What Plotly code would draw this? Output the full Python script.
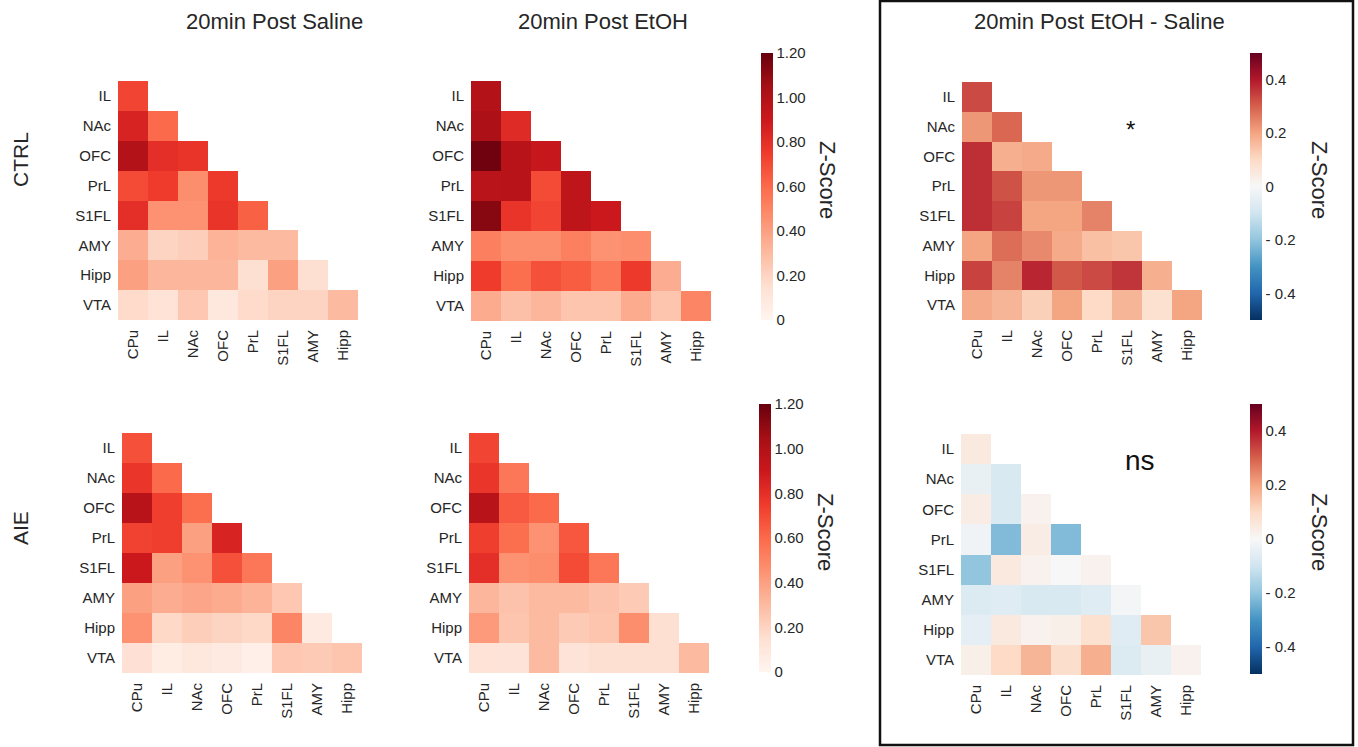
import plotly.graph_objects as go

W, H = 1358, 747

rows = ["IL", "NAc", "OFC", "PrL", "S1FL", "AMY", "Hipp", "VTA"]
cols = ["CPu", "IL", "NAc", "OFC", "PrL", "S1FL", "AMY", "Hipp"]

ctrl_saline = [
    [0.72],
    [0.85, 0.60],
    [1.00, 0.80, 0.78],
    [0.70, 0.75, 0.47, 0.76],
    [0.80, 0.45, 0.45, 0.78, 0.63],
    [0.35, 0.20, 0.22, 0.33, 0.30, 0.30],
    [0.40, 0.32, 0.32, 0.32, 0.15, 0.40, 0.15],
    [0.17, 0.13, 0.25, 0.10, 0.17, 0.20, 0.20, 0.30],
]
ctrl_etoh = [
    [1.00],
    [1.02, 0.82],
    [1.18, 0.98, 0.92],
    [0.97, 0.98, 0.70, 0.95],
    [1.12, 0.78, 0.72, 0.95, 0.90],
    [0.52, 0.47, 0.47, 0.52, 0.45, 0.47],
    [0.75, 0.58, 0.68, 0.64, 0.55, 0.76, 0.35],
    [0.36, 0.28, 0.32, 0.26, 0.26, 0.36, 0.26, 0.50],
]
ctrl_diff = [
    [0.33],
    [0.22, 0.29],
    [0.37, 0.18, 0.19],
    [0.37, 0.32, 0.22, 0.22],
    [0.37, 0.34, 0.20, 0.20, 0.25],
    [0.20, 0.28, 0.24, 0.19, 0.15, 0.14],
    [0.34, 0.25, 0.38, 0.31, 0.33, 0.36, 0.18],
    [0.19, 0.17, 0.12, 0.20, 0.10, 0.17, 0.08, 0.20],
]
aie_saline = [
    [0.68],
    [0.77, 0.60],
    [0.98, 0.74, 0.58],
    [0.73, 0.74, 0.40, 0.85],
    [0.90, 0.40, 0.45, 0.68, 0.55],
    [0.40, 0.35, 0.38, 0.36, 0.33, 0.25],
    [0.45, 0.18, 0.22, 0.20, 0.18, 0.50, 0.08],
    [0.14, 0.06, 0.10, 0.08, 0.04, 0.25, 0.24, 0.26],
]
aie_etoh = [
    [0.72],
    [0.77, 0.55],
    [0.98, 0.65, 0.60],
    [0.74, 0.58, 0.45, 0.66],
    [0.80, 0.45, 0.47, 0.70, 0.55],
    [0.32, 0.27, 0.30, 0.30, 0.27, 0.24],
    [0.42, 0.26, 0.30, 0.24, 0.26, 0.47, 0.15],
    [0.13, 0.12, 0.30, 0.12, 0.15, 0.15, 0.15, 0.30],
]
aie_diff = [
    [0.05],
    [-0.04, -0.08],
    [0.04, -0.08, 0.02],
    [-0.02, -0.22, 0.04, -0.22],
    [-0.20, 0.05, 0.02, 0.00, 0.02],
    [-0.07, -0.06, -0.08, -0.08, -0.06, -0.01],
    [-0.05, 0.05, 0.02, 0.03, 0.08, -0.06, 0.14],
    [0.03, 0.10, 0.17, 0.09, 0.18, -0.07, -0.04, 0.02],
]

col_titles = ["20min Post Saline", "20min Post EtOH", "20min Post EtOH - Saline"]
row_titles = ["CTRL", "AIE"]
reds_ticks = [0, 0.2, 0.4, 0.6, 0.8, 1.0, 1.2]
reds_ticktext = ["0", "0.20", "0.40", "0.60", "0.80", "1.00", "1.20"]
diff_ticks = [-0.4, -0.2, 0, 0.2, 0.4]
diff_ticktext = ["- 0.4", "- 0.2", "0", "0.2", "0.4"]

reds = [
    [0.0, "rgb(255,245,240)"], [0.125, "rgb(254,224,210)"], [0.25, "rgb(252,187,161)"],
    [0.375, "rgb(252,146,114)"], [0.5, "rgb(251,106,74)"], [0.625, "rgb(239,59,44)"],
    [0.75, "rgb(203,24,29)"], [0.875, "rgb(165,15,21)"], [1.0, "rgb(103,0,13)"],
]
rdbu_r = [
    [0.0, "rgb(5,48,97)"], [0.1, "rgb(33,102,172)"], [0.2, "rgb(67,147,195)"],
    [0.3, "rgb(146,197,222)"], [0.4, "rgb(209,229,240)"], [0.5, "rgb(247,247,247)"],
    [0.6, "rgb(253,219,199)"], [0.7, "rgb(244,165,130)"], [0.8, "rgb(214,96,77)"],
    [0.9, "rgb(178,24,43)"], [1.0, "rgb(103,0,31)"],
]

FONT = "Liberation Sans, Arial, sans-serif"
TXT = "#262626"


def full(tri):
    return [r + [None] * (len(cols) - len(r)) for r in tri]


def px_x(v):
    return v / W


def px_y(v):
    return 1 - v / H


# panel boxes in pixels: (x0, x1, y0, y1)
panels = [
    (ctrl_saline, (118, 358, 81, 320), "reds", None),
    (ctrl_etoh, (471, 711, 81, 321), "reds", (761, 53, 320)),
    (ctrl_diff, (962, 1202, 82, 320), "diff", (1250, 53, 320)),
    (aie_saline, (122, 362, 433, 673), "reds", None),
    (aie_etoh, (469, 709, 433, 673), "reds", (759, 404, 672)),
    (aie_diff, (961, 1201, 434, 675), "diff", (1250, 404, 674)),
]

fig = go.Figure()
layout = {}
for i, (data, (x0, x1, y0, y1), kind, cb) in enumerate(panels):
    n = i + 1
    xa = "x" if n == 1 else f"x{n}"
    ya = "y" if n == 1 else f"y{n}"
    if kind == "reds":
        cs, zmin, zmax, tv, tt = reds, 0, 1.2, reds_ticks, reds_ticktext
    else:
        cs, zmin, zmax, tv, tt = rdbu_r, -0.5, 0.5, diff_ticks, diff_ticktext
    tr = dict(
        z=full(data), x=cols, y=rows, colorscale=cs, zmin=zmin, zmax=zmax,
        xaxis=xa, yaxis=ya, hoverongaps=False, showscale=cb is not None,
    )
    if cb is not None:
        cx, cy0, cy1 = cb
        tr["colorbar"] = dict(
            x=px_x(cx), xanchor="left", xref="paper",
            y=px_y((cy0 + cy1) / 2), yanchor="middle", yref="paper",
            len=cy1 - cy0, lenmode="pixels", thickness=12, thicknessmode="pixels",
            outlinewidth=0, ticks="", tickvals=tv, ticktext=tt,
            tickfont=dict(family=FONT, size=15, color=TXT), xpad=0, ypad=0,
        )
    fig.add_trace(go.Heatmap(**tr))
    key_x = "xaxis" if n == 1 else f"xaxis{n}"
    key_y = "yaxis" if n == 1 else f"yaxis{n}"
    layout[key_x] = dict(
        domain=[px_x(x0), px_x(x1)], anchor=ya, tickangle=-90, showgrid=False,
        zeroline=False, showline=False, ticks="", ticklen=0, ticklabelstandoff=6,
        tickfont=dict(family=FONT, size=15, color=TXT), fixedrange=True,
    )
    layout[key_y] = dict(
        domain=[px_y(y1), px_y(y0)], anchor=xa, autorange="reversed", showgrid=False,
        zeroline=False, showline=False, ticks="", ticklen=0, ticklabelstandoff=6,
        tickfont=dict(family=FONT, size=15, color=TXT), fixedrange=True,
    )

annotations = []
title_x = [274, 603, 1099]
for t, cx in zip(col_titles, title_x):
    annotations.append(dict(
        text=t, x=px_x(cx), y=px_y(21), xref="paper", yref="paper",
        xanchor="center", yanchor="middle", showarrow=False,
        font=dict(family=FONT, size=22, color=TXT),
    ))
for t, cy in zip(row_titles, [160, 528]):
    annotations.append(dict(
        text=t, x=px_x(20), y=px_y(cy), xref="paper", yref="paper",
        xanchor="center", yanchor="middle", showarrow=False, textangle=-90,
        font=dict(family=FONT, size=21, color=TXT),
    ))
for zx, zy in [(828, 180), (826, 532), (1320, 180), (1320, 532)]:
    annotations.append(dict(
        text="Z-Score", x=px_x(zx), y=px_y(zy), xref="paper", yref="paper",
        xanchor="center", yanchor="middle", showarrow=False, textangle=90,
        font=dict(family=FONT, size=22, color=TXT),
    ))
annotations.append(dict(
    text="*", x=px_x(1130), y=px_y(130), xref="paper", yref="paper",
    xanchor="center", yanchor="middle", showarrow=False,
    font=dict(family=FONT, size=24, color="#111"),
))
annotations.append(dict(
    text="ns", x=px_x(1140), y=px_y(460), xref="paper", yref="paper",
    xanchor="center", yanchor="middle", showarrow=False,
    font=dict(family=FONT, size=28, color="#111"),
))

shapes = [dict(
    type="rect", xref="paper", yref="paper",
    x0=px_x(880), x1=px_x(1353), y0=px_y(745), y1=px_y(1),
    line=dict(color="#111", width=2.5), fillcolor="rgba(0,0,0,0)",
)]

fig.update_layout(
    width=W, height=H, margin=dict(l=0, r=0, t=0, b=0),
    paper_bgcolor="white", plot_bgcolor="white",
    annotations=annotations, shapes=shapes, showlegend=False,
    font=dict(family=FONT, color=TXT),
    **layout,
)

fig.write_html("out.html")
